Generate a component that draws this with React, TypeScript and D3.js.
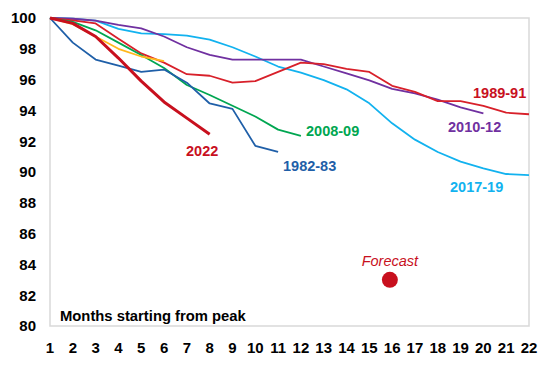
import React, { useRef, useEffect } from 'react';
import * as d3 from 'd3';

const months = [1, 2, 3, 4, 5, 6, 7, 8, 9, 10, 11, 12, 13, 14, 15, 16, 17, 18, 19, 20, 21, 22];
const yTicks = [80, 82, 84, 86, 88, 90, 92, 94, 96, 98, 100];

const s2022 = [100, 99.65, 98.8, 97.4, 95.9, 94.55, 93.5, 92.45];
const s1982 = [100, 98.4, 97.3, 96.9, 96.5, 96.65, 95.8, 94.45, 94.1, 91.7, 91.3];
const s2008 = [100, 99.75, 99.2, 98.4, 97.6, 96.75, 95.65, 95.0, 94.3, 93.6, 92.75, 92.35];
const sOther = [100, 99.6, 98.8, 98.0, 97.5, 97.2];
const s1989 = [100, 99.85, 99.65, 98.65, 97.7, 97.1, 96.35, 96.25, 95.8, 95.9, 96.5, 97.1, 97.0, 96.7, 96.5, 95.6, 95.2, 94.6, 94.6, 94.3, 93.85, 93.75];
const s2010 = [100, 99.95, 99.83, 99.55, 99.33, 98.8, 98.1, 97.6, 97.3, 97.3, 97.3, 97.3, 96.85, 96.4, 95.95, 95.4, 95.1, 94.7, 94.2, 93.8];
const s2017 = [100, 99.95, 99.83, 99.3, 99.0, 98.95, 98.85, 98.6, 98.1, 97.5, 96.85, 96.45, 95.97, 95.37, 94.46, 93.16, 92.1, 91.3, 90.67, 90.24, 89.87, 89.8];

const forecastMonth = 15.9;
const forecastValue = 83;

const series = [
  { name: '2017-19', values: s2017, color: '#12b2ef', width: 1.8 },
  { name: '2010-12', values: s2010, color: '#7030a0', width: 1.8 },
  { name: '1989-91', values: s1989, color: '#d8202a', width: 1.8 },
  { name: '2008-09', values: s2008, color: '#00a651', width: 1.8 },
  { name: '1982-83', values: s1982, color: '#1f5fa8', width: 1.8 },
  { name: 'other', values: sOther, color: '#ffb81c', width: 1.8 },
  { name: '2022', values: s2022, color: '#c8101e', width: 3 },
];

const labels = [
  { text: '1989-91', x: 473, y: 98, color: '#c8101e' },
  { text: '2010-12', x: 448, y: 132, color: '#7030a0' },
  { text: '2008-09', x: 306, y: 136, color: '#00a651' },
  { text: '1982-83', x: 283, y: 171, color: '#1f5fa8' },
  { text: '2022', x: 186, y: 156, color: '#c8101e' },
  { text: '2017-19', x: 450, y: 192, color: '#12b2ef' },
];

const font = 'Liberation Sans, Arial, sans-serif';

const App = () => {
  const chartRef = useRef<SVGSVGElement>(null);

  useEffect(() => {
    const svg = d3.select(chartRef.current);
    svg.selectAll('*').remove();

    const left = 50, right = 529, top = 18, bottom = 326;

    const x = d3.scaleLinear().domain([1, 22]).range([left, right]);
    const y = d3.scaleLinear().domain([80, 100]).range([bottom, top]);

    // plot frame
    svg.append('rect')
      .attr('x', left)
      .attr('y', top)
      .attr('width', right - left)
      .attr('height', bottom - top)
      .attr('fill', 'none')
      .attr('stroke', '#d9d9d9')
      .attr('stroke-width', 1.5);

    // y labels
    svg.append('g')
      .selectAll('text')
      .data(yTicks)
      .enter()
      .append('text')
      .attr('x', 36)
      .attr('y', d => y(d))
      .attr('dy', '0.36em')
      .attr('text-anchor', 'end')
      .style('font-family', font)
      .style('font-weight', 'bold')
      .style('font-size', '15px')
      .text(d => d);

    // x labels
    svg.append('g')
      .selectAll('text')
      .data(months)
      .enter()
      .append('text')
      .attr('x', d => x(d))
      .attr('y', 353)
      .attr('text-anchor', 'middle')
      .style('font-family', font)
      .style('font-weight', 'bold')
      .style('font-size', '15px')
      .text(d => d);

    svg.append('text')
      .attr('x', 60)
      .attr('y', 321)
      .style('font-family', font)
      .style('font-weight', 'bold')
      .style('font-size', '14.8px')
      .text('Months starting from peak');

    const line = d3.line<number>()
      .x((_, i) => x(months[i]))
      .y(d => y(d));

    series.forEach(s => {
      svg.append('path')
        .datum(s.values)
        .attr('d', line)
        .attr('fill', 'none')
        .attr('stroke', s.color)
        .attr('stroke-width', s.width)
        .attr('stroke-linejoin', 'round');
    });

    svg.append('g')
      .selectAll('text')
      .data(labels)
      .enter()
      .append('text')
      .attr('x', d => d.x)
      .attr('y', d => d.y)
      .attr('fill', d => d.color)
      .style('font-family', font)
      .style('font-weight', 'bold')
      .style('font-size', '14.5px')
      .text(d => d.text);

    // forecast point
    svg.append('circle')
      .attr('cx', x(forecastMonth))
      .attr('cy', y(forecastValue))
      .attr('r', 8)
      .attr('fill', '#c8101e');

    svg.append('text')
      .attr('x', x(forecastMonth))
      .attr('y', 266)
      .attr('text-anchor', 'middle')
      .attr('fill', '#c8101e')
      .style('font-family', font)
      .style('font-style', 'italic')
      .style('font-size', '14.5px')
      .text('Forecast');
  }, []);

  return (
    <svg
      ref={chartRef}
      width={548}
      height={366}
      style={{ position: 'absolute', left: 0, top: 0, background: '#fff' }}
    />
  );
};

export default App;
